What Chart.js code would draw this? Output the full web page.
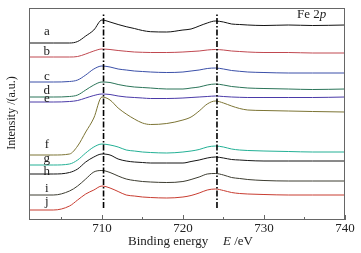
<!DOCTYPE html>
<html>
<head>
<meta charset="utf-8">
<script src="https://cdn.jsdelivr.net/npm/chart.js@4.4.0/dist/chart.umd.min.js"></script>
<style>
    html, body { margin: 0; padding: 0; background: #fff; }
    #wrap { width: 361px; height: 253px; }
</style>
</head>
<body>
<div id="wrap"><canvas id="myChart"></canvas></div>
<script>
// binding energy (eV) sampled along every curve
const energies = [701, 704, 706, 707, 708, 709, 710, 711, 712, 713, 714, 715, 716, 718, 720, 721, 722, 723, 724, 725, 726, 727, 728, 730, 733, 736, 740];

// stacked spectra, intensity in a.u.
const curveA = [177, 177, 177, 178.5, 184, 190, 200, 198, 195.5, 193.3, 191.5, 189.5, 188.3, 188, 190, 191, 194, 197, 199, 198, 196, 195.5, 195, 194.5, 195, 194.5, 195];
const curveB = [163, 163, 163, 163.5, 166, 169, 171, 170.5, 169.5, 168.7, 168, 167.7, 167.5, 167.5, 168, 168.5, 169, 170, 170.5, 170, 169, 168.5, 168, 167.5, 167.5, 167, 167];
const curveC = [138, 138, 138.5, 140, 145, 151, 154, 153, 151, 150, 149, 148.5, 148, 147.5, 148, 149, 150, 151.5, 152, 151, 149.5, 148.7, 148, 147.5, 147, 147, 147];
const curveD = [123, 123, 123.5, 125, 130, 135, 138, 137.5, 135.5, 134, 133, 132.5, 132, 131, 131, 132, 133, 135, 136, 135, 133.5, 132.7, 132, 131.5, 131, 130.5, 131];
const curveE = [118, 118, 118.5, 119.5, 122, 124.5, 126, 125.5, 124, 123, 122.5, 122, 121.5, 121.5, 122, 122.5, 123, 123.5, 124, 123.5, 123, 122.7, 122.5, 122.5, 122.5, 122.5, 123];
const curveF = [65, 65, 66, 74, 88, 102, 123, 120, 112, 106, 101, 97, 95.5, 96.5, 100, 103, 109, 116, 119, 117, 114, 111.5, 110, 109.5, 109, 108.5, 108];
const curveG = [55, 55, 56, 60, 67, 73, 76, 75, 73, 70, 69, 68, 67.5, 67, 68, 69, 70.5, 73, 74, 73, 71, 70, 69.5, 69, 68.5, 68, 68];
const curveH = [46, 46, 47.5, 51, 58, 63, 66, 65, 61, 59, 58, 57.5, 57, 57, 57, 58.5, 60, 62, 63, 62, 60.5, 60, 59.5, 59, 59, 59, 59];
const curveI = [25, 25, 29, 34, 41, 48, 49.5, 47.5, 44, 41, 39.5, 38.5, 38, 37.5, 38.5, 40.5, 43, 46, 46.5, 45, 42.5, 41.5, 40.5, 39.5, 39, 39, 39];
const curveJ = [10, 10, 14, 20, 26, 30, 34, 32, 28.5, 25, 24, 23, 22.5, 22, 23, 24.5, 27, 30, 31, 29.5, 27.5, 26.5, 26, 25.5, 25, 25, 25];

const curveNames = ["a", "b", "c", "d", "e", "f", "g", "h", "i", "j"];
const curveColors = ["#111111", "#c04850", "#3a4fa8", "#2a7458", "#4a3aa8", "#7c7434", "#22b095", "#151515", "#3c3c30", "#c83c30"];

// dash-dot reference lines (eV) and their vertical extent (a.u.)
const refLines = [710.2, 724.2];
const refSpan = [12, 207];

const xTicks = [710, 720, 730, 740];
const xMinorTicks = [705, 715, 725, 735];

const allCurves = [curveA, curveB, curveC, curveD, curveE, curveF, curveG, curveH, curveI, curveJ];
const labelLift = [11, 5, 5, 6, 3, 10, 6, 2, 6, 8];

const datasets = allCurves.map(function (vals, k) {
    return {
        label: curveNames[k],
        data: vals.map(function (v, i) { return { x: energies[i], y: v }; }),
        borderColor: curveColors[k],
        borderWidth: 1,
        pointRadius: 0,
        tension: 0.35,
        cubicInterpolationMode: "monotone",
        order: 2,
    };
});

refLines.forEach(function (e) {
    datasets.push({
        label: "ref",
        data: [{ x: e, y: refSpan[0] }, { x: e, y: refSpan[1] }],
        borderColor: "#000",
        borderWidth: 1.6,
        borderDash: [6, 2, 1.5, 2],
        pointRadius: 0,
        order: 1,
    });
});

const serif = "'Liberation Serif', 'Times New Roman', serif";

const decor = {
    id: "decor",
    afterDraw: function (chart) {
        const c = chart.ctx;
        const a = chart.chartArea;
        const xs = chart.scales.x;
        const ys = chart.scales.y;
        c.save();
        c.strokeStyle = "#666";
        c.lineWidth = 1;
        c.strokeRect(a.left + 0.5, a.top + 0.5, a.right - a.left - 1, a.bottom - a.top - 1);

        // inward ticks on the bottom axis
        c.beginPath();
        xTicks.forEach(function (t) {
            const px = Math.round(xs.getPixelForValue(t)) + 0.5;
            c.moveTo(px, a.bottom);
            c.lineTo(px, a.bottom - 5);
        });
        xMinorTicks.forEach(function (t) {
            const px = Math.round(xs.getPixelForValue(t)) + 0.5;
            c.moveTo(px, a.bottom);
            c.lineTo(px, a.bottom - 3);
        });
        c.stroke();

        c.fillStyle = "#222";
        c.textBaseline = "middle";

        // tick labels
        c.font = "13px " + serif;
        c.textAlign = "center";
        xTicks.forEach(function (t) {
            c.fillText(String(t), xs.getPixelForValue(t), a.bottom + 9);
        });

        // curve letters
        allCurves.forEach(function (vals, k) {
            const py = ys.getPixelForValue(vals[1]) - labelLift[k];
            c.fillText(curveNames[k], xs.getPixelForValue(703.2), py);
        });

        // panel title
        c.textAlign = "left";
        c.fillText("Fe 2", 297, 15);
        const w = c.measureText("Fe 2").width;
        c.font = "italic 13px " + serif;
        c.fillText("p", 297 + w, 15);

        // x axis title
        c.font = "13px " + serif;
        c.fillText("Binding energy", 128, 242);
        c.font = "italic 13px " + serif;
        c.fillText("E", 223, 242);
        const we = c.measureText("E").width;
        c.font = "13px " + serif;
        c.fillText(" /eV", 223 + we, 242);

        // y axis title
        c.translate(12, 113);
        c.rotate(-Math.PI / 2);
        c.textAlign = "center";
        c.font = "12px " + serif;
        c.fillText("Intensity /(a.u.)", 0, 0);
        c.restore();
    },
};

new Chart(document.getElementById("myChart"), {
    type: "line",
    data: { datasets: datasets },
    options: {
        responsive: true,
        maintainAspectRatio: false,
        animation: false,
        layout: { padding: { left: 29, right: 16, top: 8, bottom: 0 } },
        plugins: {
            legend: { display: false },
            tooltip: { enabled: false },
        },
        scales: {
            x: {
                type: "linear",
                min: 701,
                max: 740,
                afterBuildTicks: function (s) {
                    s.ticks = xTicks.map(function (v) { return { value: v }; });
                },
                afterFit: function (s) { s.height = 33; },
                grid: { display: false },
                border: { display: false },
                ticks: { display: false },
            },
            y: {
                display: false,
                min: 0,
                max: 212,
            },
        },
    },
    plugins: [decor],
});
</script>
</body>
</html>
